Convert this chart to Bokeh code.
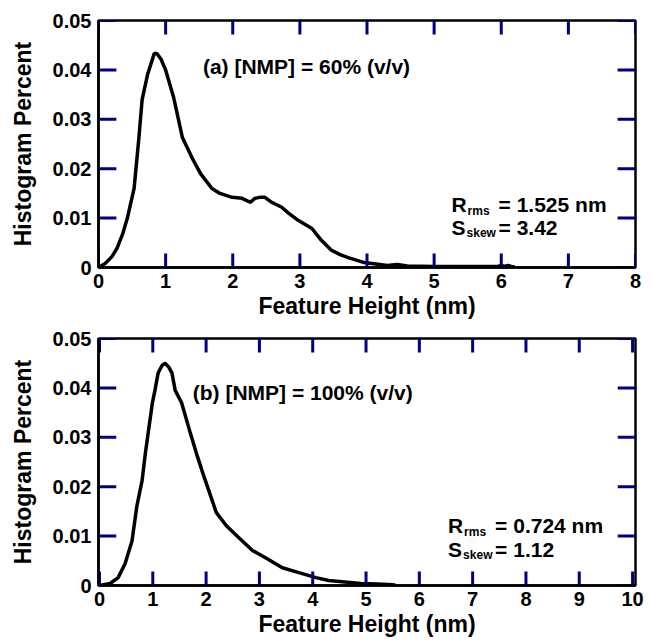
from bokeh.plotting import figure
from bokeh.layouts import column
from bokeh.models import FixedTicker, Range1d
from bokeh.core.properties import value
from bokeh.embed import file_html
from bokeh.resources import INLINE

# ---- data: panel (a) [NMP] = 60% ----
xa = [0.0, 0.1, 0.2, 0.28, 0.36, 0.43, 0.53, 0.6, 0.65, 0.73, 0.83, 0.87, 0.93, 1.0, 1.12,
      1.25, 1.39, 1.52, 1.69, 1.81, 1.99, 2.14, 2.26, 2.33, 2.40, 2.48, 2.58, 2.73, 2.83,
      2.98, 3.18, 3.32, 3.47, 3.6, 3.72, 3.96, 4.3, 4.45, 4.5, 4.6, 5.0, 5.5, 5.95, 6.0,
      6.05, 6.1, 6.15, 6.2]
ya = [0.0, 0.0008, 0.0022, 0.004, 0.0068, 0.010, 0.016, 0.026, 0.034, 0.039, 0.0433,
      0.0433, 0.0422, 0.040, 0.0344, 0.0263, 0.0223, 0.019, 0.016, 0.015, 0.0142, 0.0140,
      0.0132, 0.0140, 0.0142, 0.0142, 0.0132, 0.0122, 0.011, 0.0095, 0.0079, 0.0055,
      0.0035, 0.0026, 0.002, 0.001, 0.0004, 0.0006, 0.0005, 0.0003, 0.0002, 0.0002,
      0.0002, 0.0004, 0.0002, 0.0004, 0.0002, 0.0001]

# ---- data: panel (b) [NMP] = 100% ----
xb = [0.0, 0.2, 0.35, 0.48, 0.61, 0.7, 0.8, 0.86, 0.92, 0.99, 1.04, 1.1, 1.17, 1.23,
      1.3, 1.36, 1.42, 1.54, 1.69, 1.82, 1.94, 2.07, 2.19, 2.38, 2.63, 2.87, 3.13, 3.43,
      3.74, 4.06, 4.3, 4.6, 4.9, 5.2, 5.4, 5.55]
yb = [0.0, 0.0004, 0.0016, 0.0044, 0.009, 0.016, 0.0213, 0.0267, 0.0314, 0.0368,
      0.0395, 0.043, 0.0445, 0.045, 0.0442, 0.043, 0.0395, 0.037, 0.0314, 0.0267,
      0.0227, 0.0186, 0.0148, 0.0121, 0.0095, 0.0071, 0.0055, 0.0036, 0.0026, 0.0016,
      0.001, 0.0007, 0.0004, 0.0003, 0.0002, 0.0001]

y_ticks = [0, 0.01, 0.02, 0.03, 0.04, 0.05]
y_tick_labels = {0: "0", 0.01: "0.01", 0.02: "0.02", 0.03: "0.03", 0.04: "0.04", 0.05: "0.05"}
xa_ticks = list(range(0, 9))
xb_ticks = list(range(0, 11))

FONT = "Liberation Sans"
TICK_FS = "20px"
LABEL_FS = "23px"
ANN_FS = "21px"
SUB_FS = "12px"
X_TICK_PX = 14
Y_TICK_PX = 18
TICK_COLOR = "#000080"


def style_axis(ax, label_standoff, axis_label_standoff):
    ax.axis_line_width = 2.5
    ax.axis_line_color = "black"
    ax.major_tick_line_color = None
    ax.major_tick_in = 0
    ax.major_tick_out = 0
    ax.minor_tick_line_color = None
    ax.major_label_text_font = FONT
    ax.major_label_text_font_style = "bold"
    ax.major_label_text_font_size = TICK_FS
    ax.major_label_text_color = "black"
    ax.major_label_standoff = label_standoff
    ax.axis_label_text_font = FONT
    ax.axis_label_text_font_style = "bold"
    ax.axis_label_text_font_size = LABEL_FS
    ax.axis_label_text_color = "black"
    ax.axis_label_standoff = axis_label_standoff


def make_panel(xs, ys, xrange, xticks, width, height, borders, title_text, title_xy,
               r_text, s_text, stat_xy, stat_dy):
    x0, x1 = xrange
    y0, y1 = 0.0, 0.05
    p = figure(width=width, height=height, output_backend="svg", toolbar_location=None,
               x_range=Range1d(x0, x1), y_range=Range1d(y0, y1),
               min_border_left=borders[0], min_border_right=borders[1],
               min_border_top=borders[2], min_border_bottom=borders[3])
    p.xgrid.grid_line_color = None
    p.ygrid.grid_line_color = None
    p.outline_line_color = "black"
    p.outline_line_width = 2.5
    p.background_fill_color = "white"
    p.border_fill_color = "white"

    p.line(xs, ys, line_color="black", line_width=3.5)

    p.xaxis.ticker = FixedTicker(ticks=xticks)
    p.yaxis.ticker = FixedTicker(ticks=y_ticks)
    p.yaxis.major_label_overrides = y_tick_labels
    p.xaxis.axis_label = "Feature Height (nm)"
    p.yaxis.axis_label = "Histogram Percent"
    for ax in p.xaxis:
        style_axis(ax, 6, 2)
    for ax in p.yaxis:
        style_axis(ax, 7, 14)

    # inward tick marks on all four sides (tick length converted from pixels)
    frame_w = width - borders[0] - borders[1]
    frame_h = height - borders[2] - borders[3]
    dy = X_TICK_PX * (y1 - y0) / frame_h
    dx = Y_TICK_PX * (x1 - x0) / frame_w
    sx0, sy0, sx1, sy1 = [], [], [], []
    for t in xticks:
        sx0 += [t, t]
        sx1 += [t, t]
        sy0 += [y0, y1]
        sy1 += [y0 + dy, y1 - dy]
    for t in y_ticks:
        sx0 += [x0, x1]
        sx1 += [x0 + dx, x1 - dx]
        sy0 += [t, t]
        sy1 += [t, t]
    p.segment(x0=sx0, y0=sy0, x1=sx1, y1=sy1, line_color=TICK_COLOR, line_width=3)

    txt = dict(text_font=value(FONT), text_font_style="bold", text_baseline="middle",
               text_align="left", text_color="black")
    # panel title
    p.text(x=[title_xy[0]], y=[title_xy[1]], text=[title_text], text_font_size=ANN_FS, **txt)

    # statistics with subscripts
    sx, sy = stat_xy
    p.text(x=[sx], y=[sy], text=["R"], text_font_size=ANN_FS, **txt)
    p.text(x=[sx], y=[sy], text=["rms"], x_offset=16, y_offset=6, text_font_size=SUB_FS, **txt)
    p.text(x=[sx], y=[sy], text=[r_text], x_offset=47, text_font_size=ANN_FS, **txt)
    p.text(x=[sx], y=[sy - stat_dy], text=["S"], text_font_size=ANN_FS, **txt)
    p.text(x=[sx], y=[sy - stat_dy], text=["skew"], x_offset=15, y_offset=6,
           text_font_size=SUB_FS, **txt)
    p.text(x=[sx], y=[sy - stat_dy], text=[s_text], x_offset=47, text_font_size=ANN_FS, **txt)
    return p


p1 = make_panel(xa, ya, (0, 8), xa_ticks, 653, 325, (95, 18, 20, 58),
                "(a) [NMP] = 60% (v/v)", (1.556, 0.0407),
                "= 1.525 nm", "= 3.42", (5.26, 0.01275), 0.0046)
p2 = make_panel(xb, yb, (-0.0185, 10.055), xb_ticks, 653, 316, (98, 11, 13, 56),
                "(b) [NMP] = 100% (v/v)", (1.75, 0.039),
                "= 0.724 nm", "= 1.12", (6.54, 0.0121), 0.0048)

layout = column(p1, p2)
open("out.html", "w").write(file_html(layout, INLINE))
